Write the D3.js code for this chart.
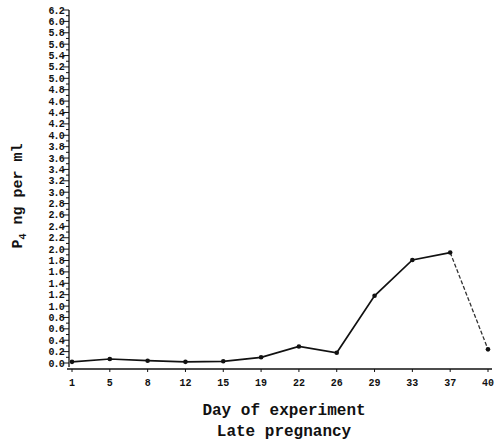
<!DOCTYPE html>
<html>
<head>
<meta charset="utf-8">
<script src="https://cdn.jsdelivr.net/npm/d3@7"></script>
<style>
  body { margin: 0; background: #fff; }
  svg { display: block; }
  text { font-family: "Liberation Mono", "DejaVu Sans Mono", monospace; fill: #111; }
</style>
</head>
<body>
<div class="canvas"></div>
<script>
// day of experiment (categories) and P4 values, ng per ml
var days = ['1','5','8','12','15','19','22','26','29','33','37','40'];
var p4 = [0.02, 0.07, 0.04, 0.02, 0.03, 0.10, 0.29, 0.18, 1.18, 1.81, 1.94, 0.24];
var yTicks = d3.range(0, 63, 2).map(function(d){ return d / 10; });
var yMinor = d3.range(1, 62, 2).map(function(d){ return d / 10; });

var W = 496, H = 448;

var svg = d3.select('.canvas')
    .append('svg')
    .attr('width', W)
    .attr('height', H);

var x = d3.scalePoint().domain(days).range([72, 488]);
var y = d3.scaleLinear().domain([0, 6.2]).range([363, 10]);

// y axis
var gy = svg.append('g').attr('transform', 'translate(69,0)');
gy.append('line')
    .attr('y1', y(6.2)).attr('y2', 367)
    .attr('stroke', '#111').attr('stroke-width', 1.3);
gy.selectAll('.maj').data(yTicks).enter().append('line')
    .attr('x1', -6).attr('x2', 0)
    .attr('y1', y).attr('y2', y)
    .attr('stroke', '#111').attr('stroke-width', 1);
gy.selectAll('.min').data(yMinor).enter().append('line')
    .attr('x1', -3).attr('x2', 0)
    .attr('y1', y).attr('y2', y)
    .attr('stroke', '#111').attr('stroke-width', 1);
gy.selectAll('.lab').data(yTicks).enter().append('text')
    .attr('x', -5)
    .attr('y', function(d){ return y(d) + 3.5; })
    .attr('text-anchor', 'end')
    .style('font-size', '10px')
    .style('font-weight', 'bold')
    .style('letter-spacing', '-0.8px')
    .text(function(d){ return d.toFixed(1); });

// x axis
var gx = svg.append('g').attr('transform', 'translate(0,369)');
gx.append('line')
    .attr('x1', 67).attr('x2', 492)
    .attr('stroke', '#111').attr('stroke-width', 1.6);
gx.selectAll('.tk').data(days).enter().append('line')
    .attr('x1', x).attr('x2', x)
    .attr('y1', 0).attr('y2', 3)
    .attr('stroke', '#111');
gx.selectAll('.lab').data(days).enter().append('text')
    .attr('x', x)
    .attr('y', 17)
    .attr('text-anchor', 'middle')
    .style('font-size', '10px')
    .style('font-weight', 'bold')
    .text(function(d){ return d; });

// line, last segment dashed
var line = d3.line()
    .x(function(d, i){ return x(days[i]); })
    .y(function(d){ return y(d); });

svg.append('path')
    .datum(p4.slice(0, 11))
    .attr('d', line)
    .attr('fill', 'none')
    .attr('stroke', '#111')
    .attr('stroke-width', 1.7);

svg.append('line')
    .attr('x1', x(days[10])).attr('y1', y(p4[10]))
    .attr('x2', x(days[11])).attr('y2', y(p4[11]))
    .attr('stroke', '#333')
    .attr('stroke-width', 1.3)
    .attr('stroke-dasharray', '4,2');

svg.selectAll('.pt').data(p4).enter().append('circle')
    .attr('cx', function(d, i){ return x(days[i]); })
    .attr('cy', y)
    .attr('r', 2.3)
    .attr('fill', '#111');

// axis titles
var ty = svg.append('text')
    .attr('transform', 'translate(22,196) rotate(-90)')
    .attr('text-anchor', 'middle')
    .style('font-size', '15px')
    .style('font-weight', 'bold');
ty.append('tspan').text('P');
ty.append('tspan').attr('dy', 4).style('font-size', '10px').text('4');
ty.append('tspan').attr('dy', -4).text(' ng per ml');

svg.append('text')
    .attr('x', 284).attr('y', 415)
    .attr('text-anchor', 'middle')
    .style('font-size', '16px')
    .style('font-weight', 'bold')
    .text('Day of experiment');

svg.append('text')
    .attr('x', 284).attr('y', 436)
    .attr('text-anchor', 'middle')
    .style('font-size', '16px')
    .style('font-weight', 'bold')
    .text('Late pregnancy');
</script>
</body>
</html>
